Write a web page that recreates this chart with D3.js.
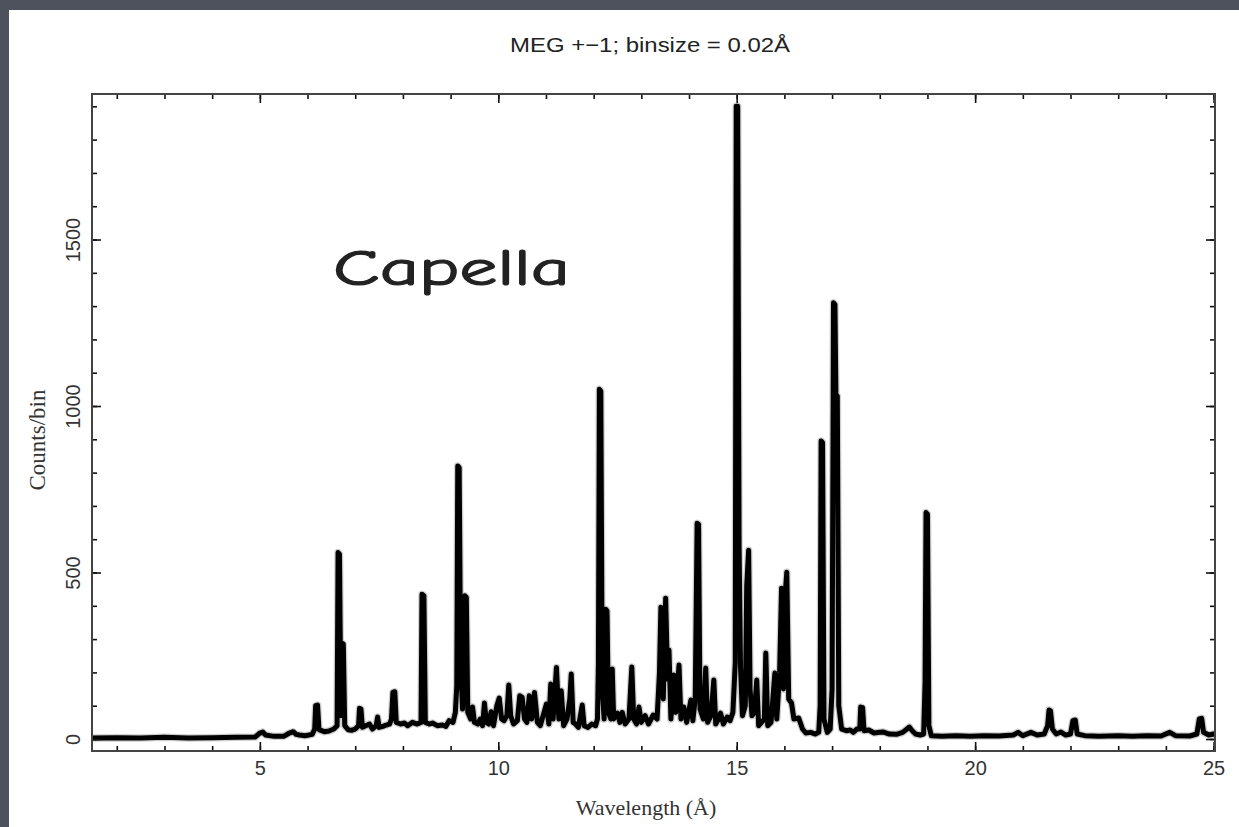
<!DOCTYPE html>
<html>
<head>
<meta charset="utf-8">
<script src="https://cdn.jsdelivr.net/npm/d3@7"></script>
<style>
  html, body { margin: 0; padding: 0; background: #4e525d; }
  #chart { width: 1239px; height: 827px; }
</style>
</head>
<body>
<div id="chart"></div>
<script>
// Spectrum profile: wavelength (Å) and counts per bin
var wave = [
  1.48, 2.0, 2.5, 3.0, 3.5, 4.0, 4.5, 4.9, 5.0, 5.06, 5.12, 5.3, 5.5, 5.62, 5.7, 5.76, 5.83, 5.95,
  6.1, 6.15, 6.17, 6.21, 6.24, 6.35, 6.45, 6.55, 6.62, 6.64, 6.67, 6.70, 6.72, 6.75, 6.78,
  6.85, 6.92, 7.0, 7.07, 7.09, 7.12, 7.15, 7.22, 7.30, 7.36, 7.44, 7.47, 7.50, 7.58, 7.65, 7.72,
  7.76, 7.79, 7.83, 7.86, 7.95, 8.03, 8.1, 8.2, 8.3, 8.38, 8.40, 8.44, 8.47, 8.55, 8.62, 8.72,
  8.83, 8.9, 8.97, 9.05, 9.10, 9.13, 9.15, 9.18, 9.21, 9.25, 9.28, 9.30, 9.33, 9.36, 9.42,
  9.46, 9.50, 9.57, 9.62, 9.67, 9.71, 9.75, 9.80, 9.85, 9.90, 9.97, 10.02, 10.07, 10.12, 10.18,
  10.22, 10.26, 10.32, 10.40, 10.45, 10.50, 10.55, 10.60, 10.65, 10.70, 10.76, 10.82, 10.88,
  10.96, 11.01, 11.06, 11.10, 11.15, 11.22, 11.27, 11.32, 11.37, 11.44, 11.50, 11.53, 11.57,
  11.62, 11.68, 11.76, 11.80, 11.88, 11.96, 12.04, 12.08, 12.10, 12.12, 12.15, 12.18, 12.22,
  12.25, 12.28, 12.31, 12.36, 12.39, 12.42, 12.50, 12.55, 12.60, 12.66, 12.74, 12.80, 12.84,
  12.90, 12.95, 13.00, 13.08, 13.15, 13.25, 13.33, 13.38, 13.41, 13.46, 13.51, 13.55, 13.58,
  13.62, 13.68, 13.72, 13.79, 13.83, 13.89, 13.95, 14.04, 14.08, 14.13, 14.17, 14.20, 14.23,
  14.30, 14.35, 14.39, 14.46, 14.52, 14.56, 14.62, 14.66, 14.72, 14.80, 14.86, 14.92, 14.97,
  14.99, 15.02, 15.05, 15.08, 15.12, 15.18, 15.21, 15.25, 15.28, 15.32, 15.37, 15.42, 15.46,
  15.52, 15.58, 15.61, 15.65, 15.72, 15.80, 15.84, 15.90, 15.94, 15.98, 16.02, 16.05, 16.09,
  16.15, 16.20, 16.30, 16.38, 16.45, 16.55, 16.65, 16.72, 16.75, 16.77, 16.80, 16.83, 16.90,
  16.96, 17.00, 17.03, 17.06, 17.08, 17.11, 17.14, 17.20, 17.30, 17.38, 17.45, 17.52, 17.58,
  17.60, 17.64, 17.67, 17.77, 17.88, 18.0, 18.08, 18.2, 18.35, 18.48, 18.55, 18.62, 18.68,
  18.75, 18.85, 18.92, 18.95, 18.97, 19.00, 19.03, 19.08, 19.3, 19.6, 19.9, 20.2, 20.5, 20.8,
  20.9, 21.0, 21.17, 21.3, 21.45, 21.52, 21.55, 21.58, 21.62, 21.70, 21.8, 21.9, 22.0, 22.05,
  22.1, 22.14, 22.3, 22.6, 23.0, 23.3, 23.6, 23.9, 24.08, 24.2, 24.5, 24.65, 24.70, 24.75,
  24.79, 24.9, 25.0, 25.1
];
var counts = [
  3, 4, 3, 5, 3, 4, 5, 6, 18, 21, 12, 8, 8, 18, 22, 14, 12, 10,
  14, 30, 100, 102, 28, 22, 24, 30, 40, 560, 555, 70, 288, 285, 40,
  28, 26, 30, 40, 92, 90, 35, 40, 45, 30, 40, 66, 35, 38, 42, 45,
  60, 140, 142, 50, 45, 48, 40, 50, 45, 50, 435, 430, 50, 45, 48, 40,
  42, 38, 55, 50, 80, 160, 820, 815, 230, 90, 220, 430, 425, 80, 60,
  96, 50, 45, 60, 40, 108, 50, 45, 82, 40, 100, 123, 60, 55, 70,
  162, 70, 45, 55, 130, 125, 60, 50, 130, 60, 140, 50, 40,
  80, 105, 45, 165, 60, 215, 60, 145, 40, 60, 120, 195, 50,
  45, 35, 102, 40, 35, 45, 40, 60, 230, 1050, 1045, 150, 60,
  390, 385, 80, 60, 210, 60, 78, 50, 80, 45, 60, 216, 60,
  45, 96, 50, 70, 45, 72, 60, 200, 396, 120, 423, 180, 267,
  60, 192, 80, 222, 60, 96, 50, 117, 55, 120, 648, 645, 90,
  60, 213, 50, 70, 177, 45, 60, 78, 45, 66, 55, 80, 230,
  1900, 1900, 580, 216, 70, 100, 460, 567, 150, 70, 80, 177, 40,
  50, 60, 258, 40, 50, 198, 60, 200, 453, 150, 440, 501, 120,
  108, 60, 63, 30, 18, 20, 15, 20, 100, 895, 890, 60, 20,
  30, 150, 1310, 1305, 1035, 1030, 100, 30, 25, 27, 20, 30, 30,
  96, 94, 25, 27, 18, 20, 21, 15, 14, 20, 28, 36, 25,
  15, 12, 15, 170, 680, 675, 40, 10, 8, 10, 8, 10, 9, 12,
  20, 10, 20, 12, 15, 40, 87, 85, 30, 15, 21, 12, 15, 55,
  57, 15, 10, 8, 10, 8, 10, 9, 20, 10, 9, 15, 60, 62,
  20, 12, 15, 12
];

var xMajor = [5, 10, 15, 20, 25];
var xMinor = d3.range(2, 26, 1);
var yMajor = [0, 500, 1000, 1500];
var yMinor = d3.range(0, 1901, 100);

var title = "MEG +\u22121; binsize = 0.02\u00C5";
var xLabel = "Wavelength (\u00C5)";
var yLabel = "Counts/bin";
var target = "Capella";

var width = 1239, height = 827;
var pLeft = 92, pRight = 1215, pTop = 94, pBottom = 751;

var svg = d3.select("#chart").append("svg")
    .attr("width", width)
    .attr("height", height);

// white slide panel over the dark background
svg.append("rect")
    .attr("x", 9).attr("y", 10)
    .attr("width", width - 9).attr("height", height - 10)
    .attr("fill", "#ffffff");

var x = d3.scaleLinear().domain([1.48, 25.03]).range([pLeft, pRight]);
var y = d3.scaleLinear().domain([-36, 1937]).range([pBottom, pTop]);

svg.append("defs").append("clipPath").attr("id", "plot")
    .append("rect")
    .attr("x", pLeft).attr("y", pTop - 4)
    .attr("width", pRight - pLeft).attr("height", pBottom - pTop + 4);

var pts = wave.map(function(w, i) { return [w, counts[i]]; });
var line = d3.line()
    .x(function(d) { return x(d[0]); })
    .y(function(d) { return y(d[1]); });

var g = svg.append("g").attr("clip-path", "url(#plot)");
// soft grey halo like the error bars in the original
g.append("path")
    .attr("d", line(pts))
    .attr("fill", "none")
    .attr("stroke", "#cfcfcf")
    .attr("stroke-width", 7.5)
    .attr("stroke-linejoin", "round");
g.append("path")
    .attr("d", line(pts))
    .attr("fill", "none")
    .attr("stroke", "#000")
    .attr("stroke-width", 5)
    .attr("stroke-linejoin", "round")
    .attr("stroke-linecap", "round");

// axes with ticks pointing inward on all four sides
function styleAxis(sel) {
    sel.select(".domain").remove();
    sel.selectAll(".tick line").attr("stroke", "#111").attr("stroke-width", 1.6);
}

svg.append("g")
    .attr("transform", "translate(0," + pBottom + ")")
    .call(d3.axisBottom(x).tickValues(xMinor).tickSize(-5).tickFormat(""))
    .call(styleAxis);
svg.append("g")
    .attr("transform", "translate(0," + pTop + ")")
    .call(d3.axisTop(x).tickValues(xMinor).tickSize(-5).tickFormat(""))
    .call(styleAxis);
svg.append("g")
    .attr("transform", "translate(0," + pTop + ")")
    .call(d3.axisTop(x).tickValues(xMajor).tickSize(-9).tickFormat(""))
    .call(styleAxis);
var xAxis = svg.append("g")
    .attr("transform", "translate(0," + pBottom + ")")
    .call(d3.axisBottom(x).tickValues(xMajor).tickSize(-9).tickPadding(10))
    .call(styleAxis);
xAxis.selectAll("text")
    .attr("font-family", "Liberation Sans, Arial, sans-serif")
    .attr("font-size", 20)
    .attr("fill", "#333");

svg.append("g")
    .attr("transform", "translate(" + pLeft + ",0)")
    .call(d3.axisLeft(y).tickValues(yMinor).tickSize(-5).tickFormat(""))
    .call(styleAxis);
svg.append("g")
    .attr("transform", "translate(" + pRight + ",0)")
    .call(d3.axisRight(y).tickValues(yMinor).tickSize(-5).tickFormat(""))
    .call(styleAxis);
svg.append("g")
    .attr("transform", "translate(" + pRight + ",0)")
    .call(d3.axisRight(y).tickValues(yMajor).tickSize(-9).tickFormat(""))
    .call(styleAxis);
var yAxis = svg.append("g")
    .attr("transform", "translate(" + pLeft + ",0)")
    .call(d3.axisLeft(y).tickValues(yMajor).tickSize(-9).tickFormat(d3.format("d")))
    .call(styleAxis);
yAxis.selectAll(".tick text")
    .attr("x", null).attr("dy", null)
    .attr("text-anchor", "middle")
    .attr("transform", "translate(-12,0) rotate(-90)")
    .attr("font-family", "Liberation Sans, Arial, sans-serif")
    .attr("font-size", 20)
    .attr("fill", "#333");

// frame
svg.append("rect")
    .attr("x", pLeft).attr("y", pTop)
    .attr("width", pRight - pLeft).attr("height", pBottom - pTop)
    .attr("fill", "none")
    .attr("stroke", "#444")
    .attr("stroke-width", 2);

svg.append("text")
    .attr("x", 650).attr("y", 52)
    .attr("text-anchor", "middle")
    .attr("font-family", "Liberation Sans, Arial, sans-serif")
    .attr("font-size", 21)
    .attr("textLength", 280)
    .attr("lengthAdjust", "spacingAndGlyphs")
    .attr("fill", "#222")
    .text(title);

svg.append("text")
    .attr("x", 646).attr("y", 815)
    .attr("text-anchor", "middle")
    .attr("font-family", "Liberation Serif, Times New Roman, serif")
    .attr("font-size", 22)
    .attr("fill", "#333")
    .text(xLabel);

svg.append("text")
    .attr("transform", "translate(45,440) rotate(-90)")
    .attr("text-anchor", "middle")
    .attr("font-family", "Liberation Serif, Times New Roman, serif")
    .attr("font-size", 23)
    .attr("fill", "#333")
    .text(yLabel);

svg.append("text")
    .attr("x", 333).attr("y", 285)
    .attr("font-family", "Comic Sans MS, Comic Neue, DejaVu Sans, sans-serif")
    .attr("font-size", 50)
    .attr("textLength", 237)
    .attr("lengthAdjust", "spacingAndGlyphs")
    .attr("fill", "#222")
    .attr("stroke", "#222")
    .attr("stroke-width", 1.2)
    .text(target);
</script>
</body>
</html>
